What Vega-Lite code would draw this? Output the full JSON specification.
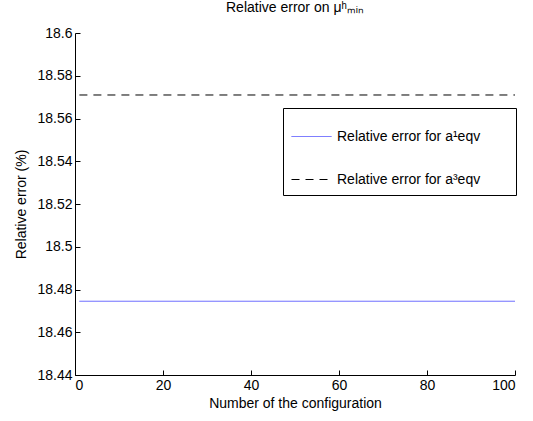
{
  "$schema": "https://vega.github.io/schema/vega-lite/v6.json",
  "width": 440,
  "height": 342,
  "autosize": {"type": "none"},
  "padding": {"left": 75, "top": 33, "right": 18, "bottom": 46},
  "background": "white",
  "title": {
    "text": "Relative error on μʰₘᵢₙ",
    "font": "Liberation Sans",
    "fontSize": 14,
    "fontWeight": "normal",
    "color": "black",
    "offset": 11
  },
  "data": {
    "values": [
      {"config": 1, "error": 18.4745, "series": "Relative error for  a¹eqv\u00a0\u00a0\u00a0\u00a0\u00a0\u00a0\u200b"},
      {"config": 100, "error": 18.4745, "series": "Relative error for  a¹eqv\u00a0\u00a0\u00a0\u00a0\u00a0\u00a0\u200b"},
      {"config": 1, "error": 18.571, "series": "Relative error for  a³eqv\u00a0\u00a0\u00a0\u00a0\u00a0\u00a0\u200b"},
      {"config": 100, "error": 18.571, "series": "Relative error for  a³eqv\u00a0\u00a0\u00a0\u00a0\u00a0\u00a0\u200b"}
    ]
  },
  "mark": {"type": "line", "strokeWidth": 1, "clip": true},
  "encoding": {
    "x": {
      "field": "config",
      "type": "quantitative",
      "scale": {"domain": [0, 100], "nice": false, "zero": false},
      "axis": {"values": [0, 20, 40, 60, 80, 100], "title": "Number of the configuration"}
    },
    "y": {
      "field": "error",
      "type": "quantitative",
      "scale": {"domain": [18.44, 18.6], "nice": false, "zero": false},
      "axis": {
        "values": [18.44, 18.46, 18.48, 18.5, 18.52, 18.54, 18.56, 18.58, 18.6],
        "format": "~g",
        "title": "Relative error (%)"
      }
    },
    "color": {
      "field": "series",
      "type": "nominal",
      "scale": {
        "domain": ["Relative error for  a¹eqv\u00a0\u00a0\u00a0\u00a0\u00a0\u00a0\u200b", "Relative error for  a³eqv\u00a0\u00a0\u00a0\u00a0\u00a0\u00a0\u200b"],
        "range": ["#5555ff", "#000000"]
      },
      "legend": {
        "title": null,
        "orient": "none",
        "legendX": 208,
        "legendY": 75,
        "strokeColor": "black",
        "fillColor": "white",
        "padding": 8,
        "symbolType": "stroke",
        "symbolSize": 1600,
        "symbolStrokeWidth": 1,
        "rowPadding": 15,
        "labelFont": "Liberation Sans",
        "labelFontSize": 14,
        "labelColor": "black",
        "labelOffset": 5,
        "labelLimit": 300
      }
    },
    "strokeDash": {
      "field": "series",
      "type": "nominal",
      "scale": {
        "domain": ["Relative error for  a¹eqv\u00a0\u00a0\u00a0\u00a0\u00a0\u00a0\u200b", "Relative error for  a³eqv\u00a0\u00a0\u00a0\u00a0\u00a0\u00a0\u200b"],
        "range": [[1, 0], [8, 6]]
      },
      "legend": null
    }
  },
  "config": {
    "view": {"stroke": null},
    "font": "Liberation Sans",
    "axis": {
      "grid": false,
      "domainColor": "black",
      "domainWidth": 1,
      "tickColor": "black",
      "tickSize": -5,
      "labelFont": "Liberation Sans",
      "labelFontSize": 14,
      "labelColor": "black",
      "titleFont": "Liberation Sans",
      "titleFontSize": 14,
      "titleFontWeight": "normal",
      "titleColor": "black"
    },
    "axisX": {"labelPadding": 8, "titlePadding": 4},
    "axisY": {"labelPadding": 8, "titlePadding": 8}
  }
}
